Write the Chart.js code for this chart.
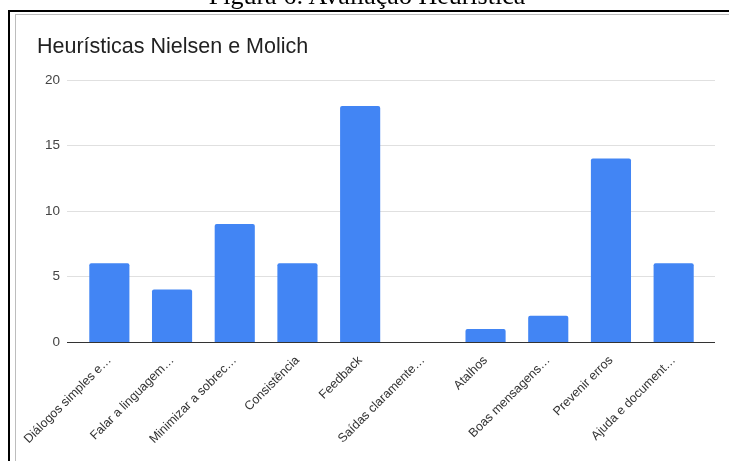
<!DOCTYPE html>
<html>
<head>
<meta charset="utf-8">
<script src="https://cdn.jsdelivr.net/npm/chart.js@4.4.1/dist/chart.umd.min.js"></script>
<style>
  html, body { margin: 0; padding: 0; background: #fff; }
  #wrap { position: relative; width: 729px; height: 461px; overflow: hidden; }
  #chart { position: absolute; left: 0; top: 0; }
  .caption {
    position: absolute; left: 0; width: 734px; top: -17px; text-align: center;
    font-family: 'Liberation Serif', 'Times New Roman', serif; font-size: 26px; line-height: 26px; color: #000;
  }
  .frame-l { position: absolute; left: 8px; top: 10px; width: 2px; height: 460px; background: #000; }
  .frame-t { position: absolute; left: 8px; top: 10px; width: 730px; height: 2px; background: #000; }
  .inner-l { position: absolute; left: 15px; top: 14px; width: 1px; height: 460px; background: #bdbdbd; }
  .inner-t { position: absolute; left: 15px; top: 14px; width: 720px; height: 1px; background: #bdbdbd; }
</style>
</head>
<body>
<div id="wrap">
  <canvas id="chart" width="729" height="461"></canvas>
  <div class="caption">Figura 6: Avaliação Heurística</div>
  <div class="frame-l"></div>
  <div class="frame-t"></div>
  <div class="inner-l"></div>
  <div class="inner-t"></div>
</div>
<script>
// chart data
const categories = [
    'Diálogos simples e…', 'Falar a linguagem…', 'Minimizar a sobrec…', 'Consistência',
    'Feedback', 'Saídas claramente…', 'Atalhos', 'Boas mensagens…', 'Prevenir erros', 'Ajuda e document…'
];
const values = [6, 4, 9, 6, 18, 0, 1, 2, 14, 6];
const yTicks = [0, 5, 10, 15, 20];

// horizontal grid lines run a bit past the bars on both sides
const gridPlugin = {
    id: 'extGrid',
    beforeDatasetsDraw(chart) {
        const { ctx, chartArea, scales } = chart;
        ctx.save();
        ctx.strokeStyle = '#e0e0e0';
        ctx.lineWidth = 1;
        yTicks.forEach(v => {
            if (v === 0) return;
            const y = Math.round(scales.y.getPixelForValue(v)) + 0.5;
            ctx.beginPath();
            ctx.moveTo(chartArea.left - 11, y);
            ctx.lineTo(chartArea.right + 10, y);
            ctx.stroke();
        });
        ctx.restore();
    },
    afterDatasetsDraw(chart) {
        const { ctx, chartArea, scales } = chart;
        const y = Math.round(scales.y.getPixelForValue(0)) + 0.5;
        ctx.save();
        ctx.strokeStyle = '#333';
        ctx.lineWidth = 1;
        ctx.beginPath();
        ctx.moveTo(chartArea.left - 11, y);
        ctx.lineTo(chartArea.right + 10, y);
        ctx.stroke();
        ctx.restore();
    }
};

new Chart(document.getElementById('chart'), {
    type: 'bar',
    data: {
        labels: categories,
        datasets: [{
            data: values,
            backgroundColor: '#4285f4',
            borderWidth: 0,
            borderRadius: 2,
            borderSkipped: 'start',
            categoryPercentage: 1,
            barPercentage: 0.64
        }]
    },
    options: {
        responsive: false,
        animation: false,
        layout: { padding: { left: 37, right: 24, top: 0, bottom: 0 } },
        plugins: {
            legend: { display: false },
            tooltip: { enabled: false },
            title: {
                display: true,
                text: 'Heurísticas Nielsen e Molich',
                align: 'start',
                color: '#212121',
                font: { family: "'Liberation Sans', Arial, sans-serif", size: 21.5, weight: 'normal' },
                padding: { top: 34, bottom: 20 }
            }
        },
        scales: {
            x: {
                offset: true,
                grid: { display: false },
                border: { display: false },
                ticks: {
                    color: '#333',
                    font: { family: "'Liberation Sans', Arial, sans-serif", size: 12.5 },
                    minRotation: 45,
                    maxRotation: 45,
                    autoSkip: false,
                    padding: 3
                },
                afterFit(scale) { scale.height = 119; }
            },
            y: {
                min: 0,
                max: 20,
                afterBuildTicks(scale) { scale.ticks = yTicks.map(v => ({ value: v })); },
                grid: { display: false },
                border: { display: false },
                ticks: {
                    color: '#444',
                    font: { family: "'Liberation Sans', Arial, sans-serif", size: 13.5 },
                    padding: 10
                },
                afterFit(scale) { scale.width = 41; }
            }
        }
    },
    plugins: [gridPlugin]
});
</script>
</body>
</html>
